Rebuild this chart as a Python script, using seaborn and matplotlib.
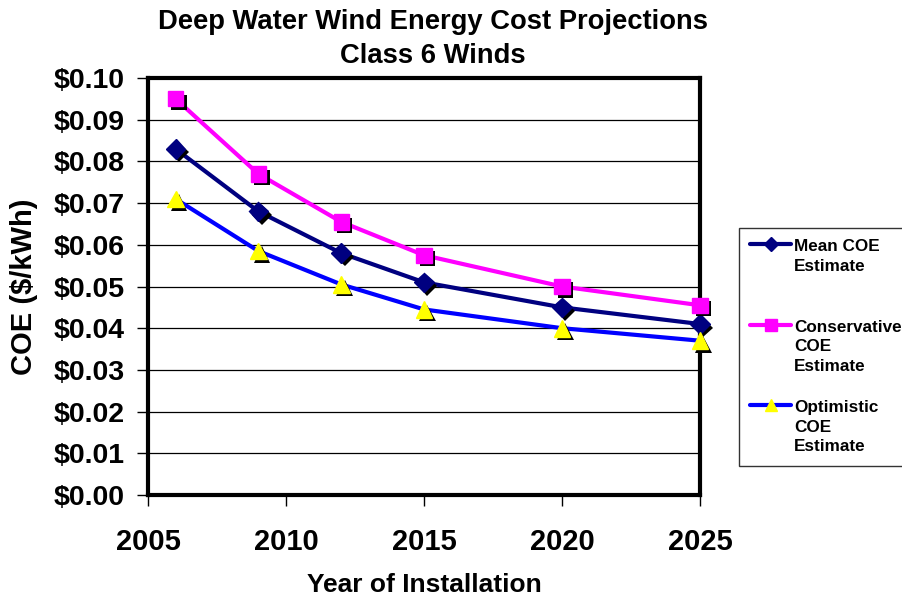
import matplotlib
matplotlib.use("Agg")
import matplotlib.pyplot as plt
import matplotlib.patheffects as pe
from matplotlib.lines import Line2D
from matplotlib.legend_handler import HandlerLine2D
import seaborn as sns
import pandas as pd

years = [2006, 2009, 2012, 2015, 2020, 2025]
mean_coe = [0.083, 0.068, 0.058, 0.051, 0.045, 0.041]
conservative_coe = [0.095, 0.077, 0.0655, 0.0575, 0.050, 0.0455]
optimistic_coe = [0.071, 0.0585, 0.0505, 0.0445, 0.040, 0.037]

series = [
    ("Mean COE\nEstimate\n ", mean_coe, "#000080", "D", "#000080", 10),
    ("Conservative\nCOE\nEstimate", conservative_coe, "#FF00FF", "s", "#FF00FF", 11),
    ("Optimistic\nCOE\nEstimate", optimistic_coe, "#0000FF", "^", "#FFFF00", 12),
]


# legend handle sits on the first text line, like Excel does
class TopLineHandler(HandlerLine2D):
    def create_artists(self, legend, orig_handle, xdescent, ydescent, width, height, fontsize, trans):
        arts = super().create_artists(legend, orig_handle, xdescent, ydescent, width, height, fontsize, trans)
        for a in arts:
            a.set_ydata([y + fontsize * 1.3 for y in a.get_ydata()])
        return arts


sns.set_style("white")
plt.rcParams['font.family'] = ['Liberation Sans', 'DejaVu Sans']
plt.rcParams['font.weight'] = 'bold'
plt.rcParams['text.color'] = 'black'
plt.rcParams['axes.labelcolor'] = 'black'
plt.rcParams['xtick.color'] = 'black'
plt.rcParams['ytick.color'] = 'black'

fig = plt.figure(figsize=(9.02, 6.03), dpi=100)
ax = fig.add_axes([148/902, 1-495/603, (700-148)/902, (495-78)/603])

shadow = [pe.SimplePatchShadow(offset=(2.5, -2.5), shadow_rgbFace='k', alpha=1), pe.Normal()]
handles = []
for name, vals, lc, mk, mc, ms in series:
    df = pd.DataFrame({"year": years, "coe": vals})
    sns.lineplot(data=df, x="year", y="coe", color=lc, linewidth=3, ax=ax, zorder=3)
    ax.plot(years, vals, linestyle='none', marker=mk, markersize=ms, clip_on=False,
            markerfacecolor=mc, markeredgecolor=mc, zorder=4, path_effects=shadow)
    handles.append(Line2D([], [], color=lc, linewidth=3, marker=mk, markersize=ms*0.75,
                          markerfacecolor=mc, markeredgecolor=mc, label=name))

ax.set_xlim(2005, 2025)
ax.set_ylim(0, 0.10)
ax.set_xticks([2005, 2010, 2015, 2020, 2025])
ax.set_yticks([i/100 for i in range(11)])
ax.set_yticklabels([f"${i/100:.2f}" for i in range(11)])
ax.yaxis.grid(True, color='black', linewidth=0.9)
ax.xaxis.grid(False)
for s in ax.spines.values():
    s.set_linewidth(3)
    s.set_color('black')
ax.tick_params(axis='y', which='major', direction='out', length=8, width=1, color='black',
               labelsize=20.5, pad=9, left=True, labelcolor='black')
ax.tick_params(axis='x', which='major', direction='out', length=8, width=1, color='black',
               labelsize=21, pad=16, bottom=True, labelcolor='black')
for lab in ax.get_xticklabels() + ax.get_yticklabels():
    lab.set_fontweight('bold')

ax.set_xlabel("Year of Installation", fontsize=19, fontweight='bold', labelpad=12)
ax.set_ylabel("COE ($/kWh)", fontsize=21, fontweight='bold')
ax.yaxis.set_label_coords(-0.2, 0.5)
fig.text(0.48, 1-22/603, "Deep Water Wind Energy Cost Projections", ha='center', va='center',
         fontsize=19.7, fontweight='bold')
fig.text(0.48, 1-56/603, "Class 6 Winds", ha='center', va='center',
         fontsize=19.7, fontweight='bold')

leg = fig.legend(handles=handles, loc='upper left', bbox_to_anchor=(739/902, 1-228/603),
                 frameon=True, fancybox=False, edgecolor='black', borderaxespad=0,
                 handlelength=2.4, handletextpad=0.17, labelspacing=1.55, borderpad=0.65,
                 handler_map={Line2D: TopLineHandler()},
                 prop={'weight': 'bold', 'size': 12.3})
for t in leg.get_texts():
    t.set_linespacing(1.38)
leg.get_frame().set_linewidth(1)

fig.savefig("out.png", dpi=100)
